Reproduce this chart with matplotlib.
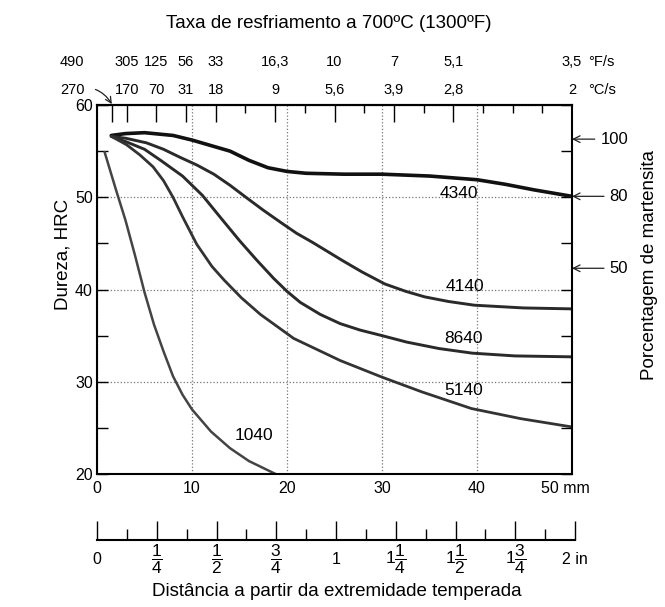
import numpy as np
import matplotlib.pyplot as plt

plt.rcParams['font.family'] = ['Liberation Sans', 'DejaVu Sans']
plt.rcParams['mathtext.fontset'] = 'custom'
plt.rcParams['mathtext.rm'] = 'Liberation Sans'

# Jominy curves, distance from quenched end (mm) vs hardness (HRC)
d_4340 = [1.5, 3, 5, 8, 10, 12, 14, 16, 18, 20, 22, 26, 30, 35, 40, 43, 46, 50]
h_4340 = [56.7, 56.9, 57.0, 56.7, 56.2, 55.6, 55.0, 54.0, 53.2, 52.8, 52.6, 52.5,
          52.5, 52.3, 51.9, 51.4, 50.8, 50.1]

d_4140 = [1.5, 3, 5.2, 7, 8.8, 10.5, 12.3, 14, 15.8, 17.5, 19.3, 21, 22.7, 25.9,
          27.9, 30.3, 32.5, 34.5, 37, 39.7, 44.9, 50]
h_4140 = [56.6, 56.4, 55.9, 55.2, 54.3, 53.5, 52.5, 51.3, 49.9, 48.6, 47.3, 46.1,
          45.1, 43.1, 41.9, 40.6, 39.8, 39.2, 38.7, 38.3, 38.0, 37.9]

d_8640 = [1.5, 3.1, 5, 6.7, 9, 11.1, 13, 15, 16.8, 18.6, 20, 21.4, 23.5, 25.6,
          27.7, 30, 32.6, 36, 39.5, 44, 50]
h_8640 = [56.6, 56.0, 55.2, 54.0, 52.3, 50.2, 47.8, 45.3, 43.2, 41.2, 39.8, 38.6,
          37.3, 36.3, 35.6, 35.0, 34.3, 33.6, 33.1, 32.8, 32.7]

d_5140 = [1.5, 3.1, 4.5, 5.9, 7, 8, 9, 10.5, 12.1, 13.4, 15.2, 17.2, 20.7, 25.6,
          30, 34.2, 39.4, 44.6, 50]
h_5140 = [56.6, 55.7, 54.6, 53.3, 51.8, 50.0, 47.9, 44.9, 42.5, 41.0, 39.1, 37.3,
          34.7, 32.3, 30.5, 28.9, 27.1, 26.0, 25.1]

d_1040 = [0.8, 2, 3, 4, 5, 6, 7, 8, 9, 10, 12, 14, 16, 18, 18.8]
h_1040 = [54.9, 50.8, 47.5, 43.7, 39.7, 36.2, 33.3, 30.6, 28.6, 27.0, 24.6, 22.8,
          21.4, 20.4, 20.0]

# curve labels (name, x mm, HRC)
curve_names = ['4340', '4140', '8640', '5140', '1040']
label_x = [38.1, 38.7, 38.6, 38.6, 16.5]
label_y = [50.4, 40.3, 34.7, 29.1, 24.2]

# cooling rate at 700 C, top scale (positions in 1/16 in of the bar)
rate_pos16 = [1, 2, 4, 6, 8, 12, 16, 20, 24, 32]
rate_F = ['490', '305', '125', '56', '33', '16,3', '10', '7', '5,1', '3,5']
rate_C = ['270', '170', '70', '31', '18', '9', '5,6', '3,9', '2,8', '2']
minor_pos16 = [10, 14, 18, 22, 26, 28, 30]

# percent martensite markers on the right (value, HRC)
mart_pct = ['100', '80', '50']
mart_hrc = [56.3, 50.1, 42.3]

# inch scale
inch_major = [0, 0.25, 0.5, 0.75, 1, 1.25, 1.5, 1.75, 2]
inch_labels = ['0', r'$\dfrac{1}{4}$', r'$\dfrac{1}{2}$', r'$\dfrac{3}{4}$', '1',
               r'$1\dfrac{1}{4}$', r'$1\dfrac{1}{2}$', r'$1\dfrac{3}{4}$', '2 in']

W, H = 665, 607
fig = plt.figure(figsize=(W / 100, H / 100), dpi=100)
ax = fig.add_axes([97 / W, 1 - 474 / H, 475 / W, 369 / H])

ax.plot(d_4340, h_4340, color='#111111', lw=2.6, solid_capstyle='round')
ax.plot(d_4140, h_4140, color='#2a2a2a', lw=2.1, solid_capstyle='round')
ax.plot(d_8640, h_8640, color='#2a2a2a', lw=2.1, solid_capstyle='round')
ax.plot(d_5140, h_5140, color='#333333', lw=2.0, solid_capstyle='round')
ax.plot(d_1040, h_1040, color='#444444', lw=1.8, solid_capstyle='round')

for name, x, y in zip(curve_names, label_x, label_y):
    ax.text(x, y, name, fontsize=12.5, ha='center', va='center')

ax.set_xlim(0, 50)
ax.set_ylim(20, 60)
ax.set_xticks([0, 10, 20, 30, 40, 50])
ax.set_xticklabels(['0', '10', '20', '30', '40', ''])
ax.text(49.3, 19.2, '50 mm', fontsize=11.5, ha='center', va='top')
ax.set_yticks([20, 30, 40, 50, 60])
ax.set_yticks([25, 35, 45, 55], minor=True)
ax.tick_params(axis='x', length=0, pad=5, labelsize=11.5)
ax.tick_params(axis='y', which='both', direction='in', length=8, width=1.0,
               right=True, labelsize=11.5, pad=3)
ax.grid(True, ls=':', color='#777777', lw=0.9)
for s in ax.spines.values():
    s.set_linewidth(1.5)

# top scale ticks
sec = ax.secondary_xaxis('top')
sec.set_xticks([p * 50 / 32 for p in rate_pos16[:-1]])
sec.set_xticks([p * 50 / 32 for p in minor_pos16], minor=True)
sec.tick_params(which='major', direction='in', length=12, width=1.0, labeltop=False)
sec.tick_params(which='minor', direction='in', length=6, width=1.0)
sec.spines['top'].set_linewidth(1.5)

for p, f, c in zip(rate_pos16, rate_F, rate_C):
    x = p * 50 / 32
    if p == 1:
        ax.text(-2.6, 64.7, f, fontsize=10.5, ha='center', va='center', clip_on=False)
        ax.annotate(c, xy=(x, 60.1), xytext=(-2.6, 61.6), fontsize=10.5,
                    ha='center', va='center', annotation_clip=False,
                    arrowprops=dict(arrowstyle='->', lw=0.9, color='#222222',
                                    connectionstyle='arc3,rad=-0.4',
                                    shrinkA=6, shrinkB=0))
        continue
    ax.text(x, 64.7, f, fontsize=10.5, ha='center', va='center', clip_on=False)
    ax.text(x, 61.6, c, fontsize=10.5, ha='center', va='center', clip_on=False)
ax.text(51.7, 64.7, '°F/s', fontsize=10.5, ha='left', va='center', clip_on=False)
ax.text(51.7, 61.6, '°C/s', fontsize=10.5, ha='left', va='center', clip_on=False)

# martensite arrows
for m, h in zip(mart_pct, mart_hrc):
    ax.annotate(m, xy=(50, h), xytext=(55.9, h), fontsize=12, ha='right',
                va='center', annotation_clip=False,
                arrowprops=dict(arrowstyle='->', lw=0.9, color='#222222',
                                shrinkA=2, shrinkB=0))

# inch scale below
ax2 = fig.add_axes([97 / W, 1 - 540 / H, 478 / W, 0.05])
ax2.set_xlim(0, 2)
ax2.set_ylim(0, 1)
ax2.set_yticks([])
ax2.set_xticks(inch_major)
ax2.set_xticklabels(inch_labels)
ax2.set_xticks(np.arange(0.125, 2, 0.25), minor=True)
ax2.tick_params(which='major', direction='in', length=14, width=1.0, labelsize=11.5, pad=14)
ax2.tick_params(which='minor', direction='in', length=8, width=1.0)
for lab in ax2.get_xticklabels():
    lab.set_va('center')
    if 'frac' in lab.get_text():
        lab.set_fontsize(12.5)
for k in ['top', 'left', 'right']:
    ax2.spines[k].set_visible(False)
ax2.spines['bottom'].set_linewidth(1.5)
ax2.patch.set_alpha(0)

fig.text(329 / W, 1 - 24 / H, 'Taxa de resfriamento a 700ºC (1300ºF)',
         fontsize=13.5, ha='center', va='center')
fig.text(63 / W, 1 - 254 / H, 'Dureza, HRC', fontsize=13.5, rotation=90,
         ha='center', va='center')
fig.text(650 / W, 1 - 265 / H, 'Porcentagem de martensita', fontsize=13.5,
         rotation=90, ha='center', va='center')
fig.text(337 / W, 1 - 592 / H, 'Distância a partir da extremidade temperada',
         fontsize=13.5, ha='center', va='center')

fig.savefig('out.png', dpi=100)
